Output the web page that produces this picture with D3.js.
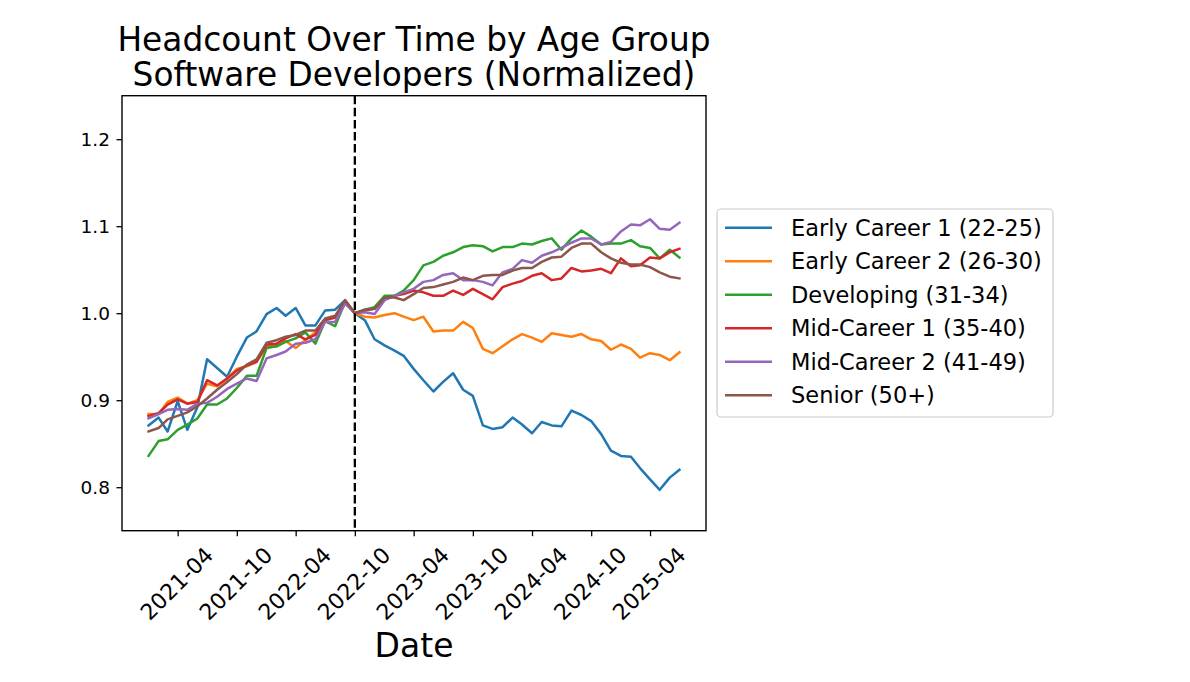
<!DOCTYPE html>
<html><head><meta charset="utf-8">
<script src="https://cdn.jsdelivr.net/npm/d3@7"></script>
<style>
body{margin:0;background:#fff}
svg{display:block}
text{font-family:"DejaVu Sans","Liberation Sans",sans-serif;fill:#000}
</style>
</head><body>
<svg id="chart" width="1190" height="682"></svg>
<script>
// ---------- DATA ----------
const months = [
 "2021-01","2021-02","2021-03","2021-04","2021-05","2021-06","2021-07","2021-08","2021-09","2021-10","2021-11","2021-12",
 "2022-01","2022-02","2022-03","2022-04","2022-05","2022-06","2022-07","2022-08","2022-09","2022-10","2022-11","2022-12",
 "2023-01","2023-02","2023-03","2023-04","2023-05","2023-06","2023-07","2023-08","2023-09","2023-10","2023-11","2023-12",
 "2024-01","2024-02","2024-03","2024-04","2024-05","2024-06","2024-07","2024-08","2024-09","2024-10","2024-11","2024-12",
 "2025-01","2025-02","2025-03","2025-04","2025-05","2025-06","2025-07"];

const earlyCareer1 = [0.871,0.880,0.864,0.899,0.866,0.892,0.947,0.937,0.927,0.950,0.972,0.979,
 0.999,1.006,0.997,1.006,0.986,0.986,1.003,1.004,1.015,1.000,0.992,0.970,0.963,0.957,0.951,0.936,
 0.923,0.910,0.921,0.931,0.912,0.905,0.871,0.867,0.869,0.880,0.872,0.862,0.875,0.871,0.870,0.888,
 0.883,0.876,0.861,0.842,0.836,0.835,0.822,0.809,0.797,0.811,0.820];
const earlyCareer2 = [0.884,0.884,0.898,0.903,0.896,0.900,0.919,0.916,0.925,0.936,0.939,0.944,
 0.962,0.962,0.968,0.960,0.969,0.978,0.992,0.995,1.014,1.000,0.996,0.995,0.998,1.000,0.996,0.992,
 0.996,0.979,0.980,0.980,0.990,0.983,0.959,0.954,0.962,0.970,0.976,0.972,0.967,0.977,0.975,0.973,
 0.976,0.970,0.968,0.958,0.964,0.959,0.949,0.954,0.952,0.946,0.955];
const developing = [0.836,0.853,0.855,0.866,0.872,0.879,0.895,0.895,0.902,0.914,0.928,0.928,
 0.960,0.962,0.967,0.971,0.978,0.965,0.991,0.985,1.013,1.000,1.004,1.007,1.020,1.020,1.026,1.038,
 1.055,1.059,1.066,1.070,1.076,1.078,1.077,1.071,1.076,1.076,1.080,1.079,1.083,1.086,1.073,1.086,
 1.095,1.088,1.079,1.080,1.080,1.084,1.077,1.075,1.063,1.073,1.064];
const midCareer1 = [0.882,0.885,0.895,0.901,0.896,0.898,0.923,0.917,0.925,0.934,0.940,0.944,
 0.964,0.965,0.971,0.976,0.970,0.975,0.992,0.995,1.014,1.000,1.003,1.005,1.016,1.020,1.022,1.026,
 1.024,1.020,1.020,1.026,1.021,1.028,1.022,1.016,1.030,1.034,1.037,1.043,1.046,1.038,1.040,1.052,
 1.048,1.049,1.051,1.046,1.063,1.054,1.055,1.064,1.063,1.070,1.074];
const midCareer2 = [0.879,0.884,0.889,0.890,0.889,0.896,0.897,0.904,0.913,0.919,0.925,0.922,
 0.948,0.952,0.956,0.965,0.966,0.970,0.990,0.990,1.011,1.000,1.001,0.999,1.015,1.020,1.024,1.028,
 1.036,1.038,1.044,1.046,1.038,1.038,1.036,1.032,1.047,1.051,1.061,1.058,1.066,1.070,1.075,1.081,
 1.086,1.086,1.079,1.082,1.094,1.102,1.101,1.108,1.097,1.096,1.104];
const senior = [0.864,0.868,0.878,0.882,0.886,0.893,0.902,0.912,0.921,0.930,0.941,0.947,
 0.966,0.969,0.973,0.975,0.980,0.980,0.994,0.997,1.015,1.000,1.004,1.005,1.018,1.018,1.015,1.022,
 1.029,1.030,1.033,1.036,1.041,1.038,1.043,1.044,1.044,1.049,1.052,1.052,1.059,1.064,1.065,1.075,
 1.080,1.080,1.070,1.063,1.058,1.056,1.056,1.053,1.047,1.042,1.040];

const seriesNames = ["Early Career 1 (22-25)","Early Career 2 (26-30)","Developing (31-34)",
 "Mid-Career 1 (35-40)","Mid-Career 2 (41-49)","Senior (50+)"];
const seriesValues = [earlyCareer1, earlyCareer2, developing, midCareer1, midCareer2, senior];
const seriesColors = ["#1f77b4","#ff7f0e","#2ca02c","#d62728","#9467bd","#8c564b"];

const xTickLabels = ["2021-04","2021-10","2022-04","2022-10","2023-04","2023-10","2024-04","2024-10","2025-04"];
const yTicks = [0.8,0.9,1.0,1.1,1.2];
const yDomain = [0.75,1.25];
const markerMonth = "2022-10";
const titleLines = ["Headcount Over Time by Age Group","Software Developers (Normalized)"];
const xLabel = "Date";

// ---------- LAYOUT ----------
const svg = d3.select("#chart");
const L = 122, R = 706, T = 95.7, B = 530.7;
const parse = d3.timeParse("%Y-%m");
const dates = months.map(parse);
const t0 = dates[0].getTime(), t1 = dates[dates.length-1].getTime();
const pad = (t1 - t0) * 0.05;
const x = d3.scaleTime().domain([new Date(t0 - pad), new Date(t1 + pad)]).range([L, R]);
const y = d3.scaleLinear().domain(yDomain).range([B, T]);

svg.append("rect").attr("width",1190).attr("height",682).attr("fill","#fff");

svg.append("defs").append("clipPath").attr("id","clip")
  .append("rect").attr("x",L).attr("y",T).attr("width",R-L).attr("height",B-T);

const line = d3.line().x((d,i)=>x(dates[i])).y(d=>y(d));
const g = svg.append("g").attr("clip-path","url(#clip)");
seriesValues.forEach((vals,k)=>{
  g.append("path").attr("d", line(vals)).attr("fill","none")
    .attr("stroke", seriesColors[k]).attr("stroke-width",2.5)
    .attr("stroke-linejoin","round").attr("stroke-linecap","square");
});
// vertical dashed marker
const mx = x(parse(markerMonth));
g.append("line").attr("x1",mx).attr("x2",mx).attr("y1",T).attr("y2",B)
  .attr("stroke","#000").attr("stroke-width",2.3).attr("stroke-dasharray","8.5,3.6");

// frame
svg.append("rect").attr("x",L).attr("y",T).attr("width",R-L).attr("height",B-T)
  .attr("fill","none").attr("stroke","#000").attr("stroke-width",1.4);

// y axis
const yAxis = svg.append("g").attr("transform",`translate(${L},0)`)
  .call(d3.axisLeft(y).tickValues(yTicks).tickSize(5.5).tickPadding(6.5).tickFormat(d3.format(".1f")));
yAxis.select(".domain").remove();
yAxis.selectAll(".tick line").attr("stroke","#000").attr("stroke-width",1.3);
yAxis.selectAll(".tick text").style("font-size","18.5px").style("font-family",'"DejaVu Sans",sans-serif').attr("fill","#000");

// x axis
const xTickDates = xTickLabels.map(parse);
const xAxis = svg.append("g").attr("transform",`translate(0,${B})`)
  .call(d3.axisBottom(x).tickValues(xTickDates).tickSize(5.5).tickFormat(d3.timeFormat("%Y-%m")));
xAxis.select(".domain").remove();
xAxis.selectAll(".tick line").attr("stroke","#000").attr("stroke-width",1.3);
const fsX = 22;
xAxis.selectAll(".tick text")
  .style("font-size",fsX+"px").style("font-family",'"DejaVu Sans",sans-serif').attr("fill","#000")
  .attr("text-anchor","end").attr("x",0).attr("y",0).attr("dy",null)
  .each(function(){
    const len = this.getComputedTextLength();
    const a = 0.76*fsX, d = 0.24*fsX;
    const px = 0.7071*(len + a)/2 - 0.7071*d/2;
    const py = 14 + 0.7071*a;
    d3.select(this).attr("transform",`translate(${px},${py}) rotate(-45)`);
  });

// x label
svg.append("text").attr("x",(L+R)/2).attr("y",657).attr("text-anchor","middle")
  .style("font-size","33px").text(xLabel);

// title
titleLines.forEach((t,i)=>{
  svg.append("text").attr("x",(L+R)/2).attr("y",50.5 + i*35).attr("text-anchor","middle")
    .style("font-size","32.8px").text(t);
});

// legend
const lg = svg.append("g");
lg.append("rect").attr("x",717).attr("y",209).attr("width",336).attr("height",208)
  .attr("rx",4).attr("fill","#fff").attr("fill-opacity",0.8)
  .attr("stroke","#cccccc").attr("stroke-width",1.2);
seriesNames.forEach((name,k)=>{
  const cy = 227.7 + k*33.5;
  lg.append("line").attr("x1",725).attr("x2",772).attr("y1",cy).attr("y2",cy)
    .attr("stroke",seriesColors[k]).attr("stroke-width",2.5);
  lg.append("text").attr("x",791).attr("y",cy+8).style("font-size","22.5px").text(name);
});
</script>
</body></html>
